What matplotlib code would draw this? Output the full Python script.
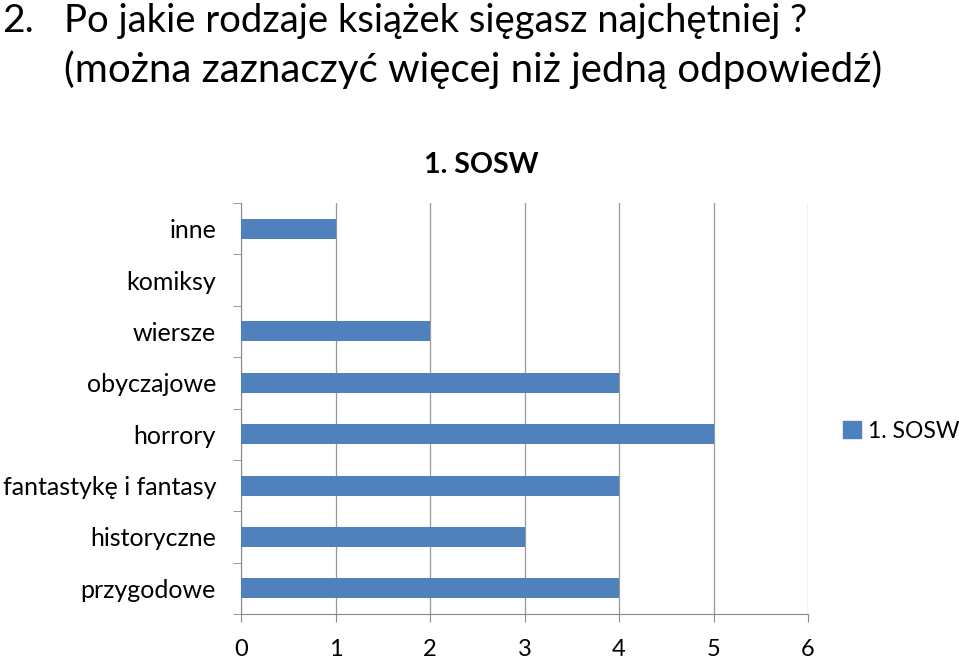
import numpy as np
import matplotlib
matplotlib.use('Agg')
import matplotlib.pyplot as plt
from matplotlib.patches import Patch

categories = ['przygodowe', 'historyczne', 'fantastykę i fantasy', 'horrory',
              'obyczajowe', 'wiersze', 'komiksy', 'inne']
values = [4, 3, 4, 5, 4, 2, 0, 1]
series_name = '1. SOSW'
x_ticks = [0, 1, 2, 3, 4, 5, 6]

plt.rcParams['font.family'] = ['Lato', 'DejaVu Sans']

fig = plt.figure(figsize=(9.59, 6.59), dpi=100)
W, H = 959, 659
ax = fig.add_axes([241 / W, 1 - 614 / H, (808 - 241) / W, (614 - 203) / H])

y = np.arange(len(categories))
ax.barh(y, values, height=0.39, color='#4F81BD', zorder=3)

ax.set_xlim(0, 6)
ax.set_ylim(-0.5, len(categories) - 0.5)
ax.set_xticks(x_ticks)
ax.set_xticklabels([str(t) for t in x_ticks], fontsize=17)
ax.set_yticks(y)
ax.set_yticklabels(categories, fontsize=18)
ax.set_yticks(np.arange(-0.5, len(categories), 1), minor=True)
ax.tick_params(axis='y', which='major', length=0, pad=18)
ax.tick_params(axis='y', which='minor', length=6, color='#888888', direction='out')
ax.tick_params(axis='x', length=6, color='#888888', direction='out', pad=12)
ax.grid(axis='x', color='#999999', linewidth=0.9, zorder=0)
for s in ['top', 'right']:
    ax.spines[s].set_visible(False)
for s in ['left', 'bottom']:
    ax.spines[s].set_color('#888888')

fig.text(481 / W, 1 - 165 / H, series_name, fontsize=20.5, fontweight='bold',
         ha='center', va='center')

fig.text(2 / W, 1 - 21 / H, '2.', fontsize=28, va='center', ha='left')
fig.text(64 / W, 1 - 21 / H, 'Po jakie rodzaje książek sięgasz najchętniej ?',
         fontsize=27.5, va='center', ha='left')
fig.text(64 / W, 1 - 70 / H, '(można zaznaczyć więcej niż jedną odpowiedź)',
         fontsize=29, va='center', ha='left')

fig.legend(handles=[Patch(color='#4F81BD')], labels=[series_name],
           loc='center left', bbox_to_anchor=(822 / W, 1 - 431 / H),
           frameon=False, fontsize=16.5, handlelength=0.8, handleheight=0.8,
           handletextpad=0.3)

fig.savefig('out.png', dpi=100)
